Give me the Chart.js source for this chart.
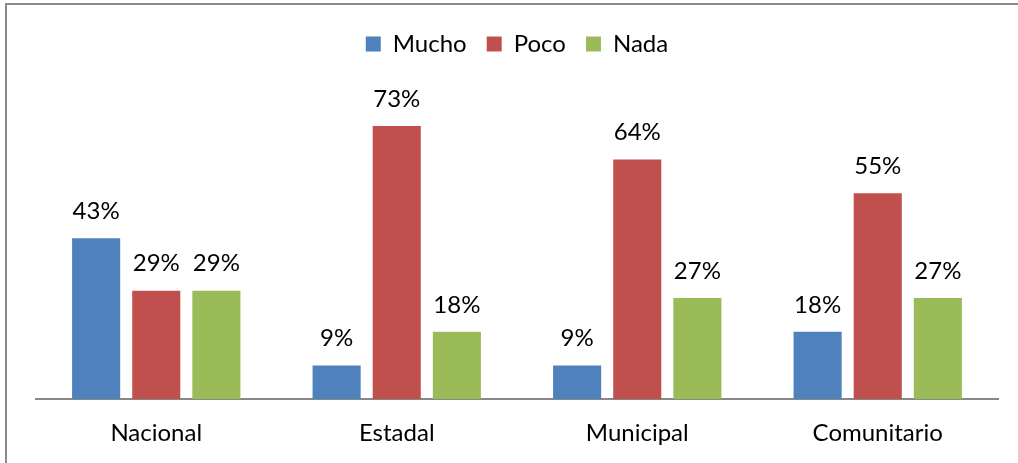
<!DOCTYPE html>
<html>
<head>
<meta charset="utf-8">
<script src="https://cdn.jsdelivr.net/npm/chart.js@4"></script>
<style>
  html, body { margin: 0; padding: 0; background: #fff; }
  #wrap { position: relative; width: 1018px; height: 463px; }
  #frame {
    position: absolute; left: 5px; top: 3px; right: 0; bottom: 0;
    border-top: 2px solid #8a8a8a; border-left: 2px solid #8a8a8a;
    pointer-events: none;
  }
</style>
</head>
<body>
<div id="wrap">
  <canvas id="chart" width="1018" height="463"></canvas>
  <div id="frame"></div>
</div>
<script>
// data
const categories = ["Nacional", "Estadal", "Municipal", "Comunitario"];
const mucho = [43, 9, 9, 18];
const poco = [29, 73, 64, 55];
const nada = [29, 18, 27, 27];

const FONT = "Lato, 'Open Sans', sans-serif";

// draws "NN%" above each bar
const valueLabels = {
  id: "valueLabels",
  afterDatasetsDraw(chart) {
    const { ctx } = chart;
    ctx.save();
    ctx.font = "24px " + FONT;
    ctx.fillStyle = "#000";
    ctx.textAlign = "center";
    ctx.textBaseline = "middle";
    chart.data.datasets.forEach((ds, i) => {
      chart.getDatasetMeta(i).data.forEach((bar, j) => {
        ctx.fillText(ds.data[j] + "%", bar.x, bar.y - 27);
      });
    });
    ctx.restore();
  },
};

const ctx = document.getElementById("chart").getContext("2d");
new Chart(ctx, {
  type: "bar",
  data: {
    labels: categories,
    datasets: [
      { label: "Mucho", data: mucho, backgroundColor: "#4F81BD" },
      { label: "Poco", data: poco, backgroundColor: "#C0504D" },
      { label: "Nada", data: nada, backgroundColor: "#9BBB59" },
    ],
  },
  options: {
    responsive: false,
    animation: false,
    layout: { padding: { left: 36, right: 20, top: 12, bottom: -5 } },
    datasets: { bar: { barPercentage: 0.8, categoryPercentage: 0.75 } },
    plugins: {
      legend: {
        position: "top",
        labels: {
          boxWidth: 15,
          boxHeight: 15,
          padding: 20,
          color: "#000",
          font: { family: FONT, size: 24 },
        },
      },
      tooltip: { enabled: false },
    },
    scales: {
      x: {
        grid: { display: false, drawTicks: false },
        border: { color: "#888", width: 2 },
        ticks: { color: "#000", padding: 20, font: { family: FONT, size: 24 } },
      },
      y: { display: false, min: 0, max: 89 },
    },
  },
  plugins: [valueLabels],
});
</script>
</body>
</html>
